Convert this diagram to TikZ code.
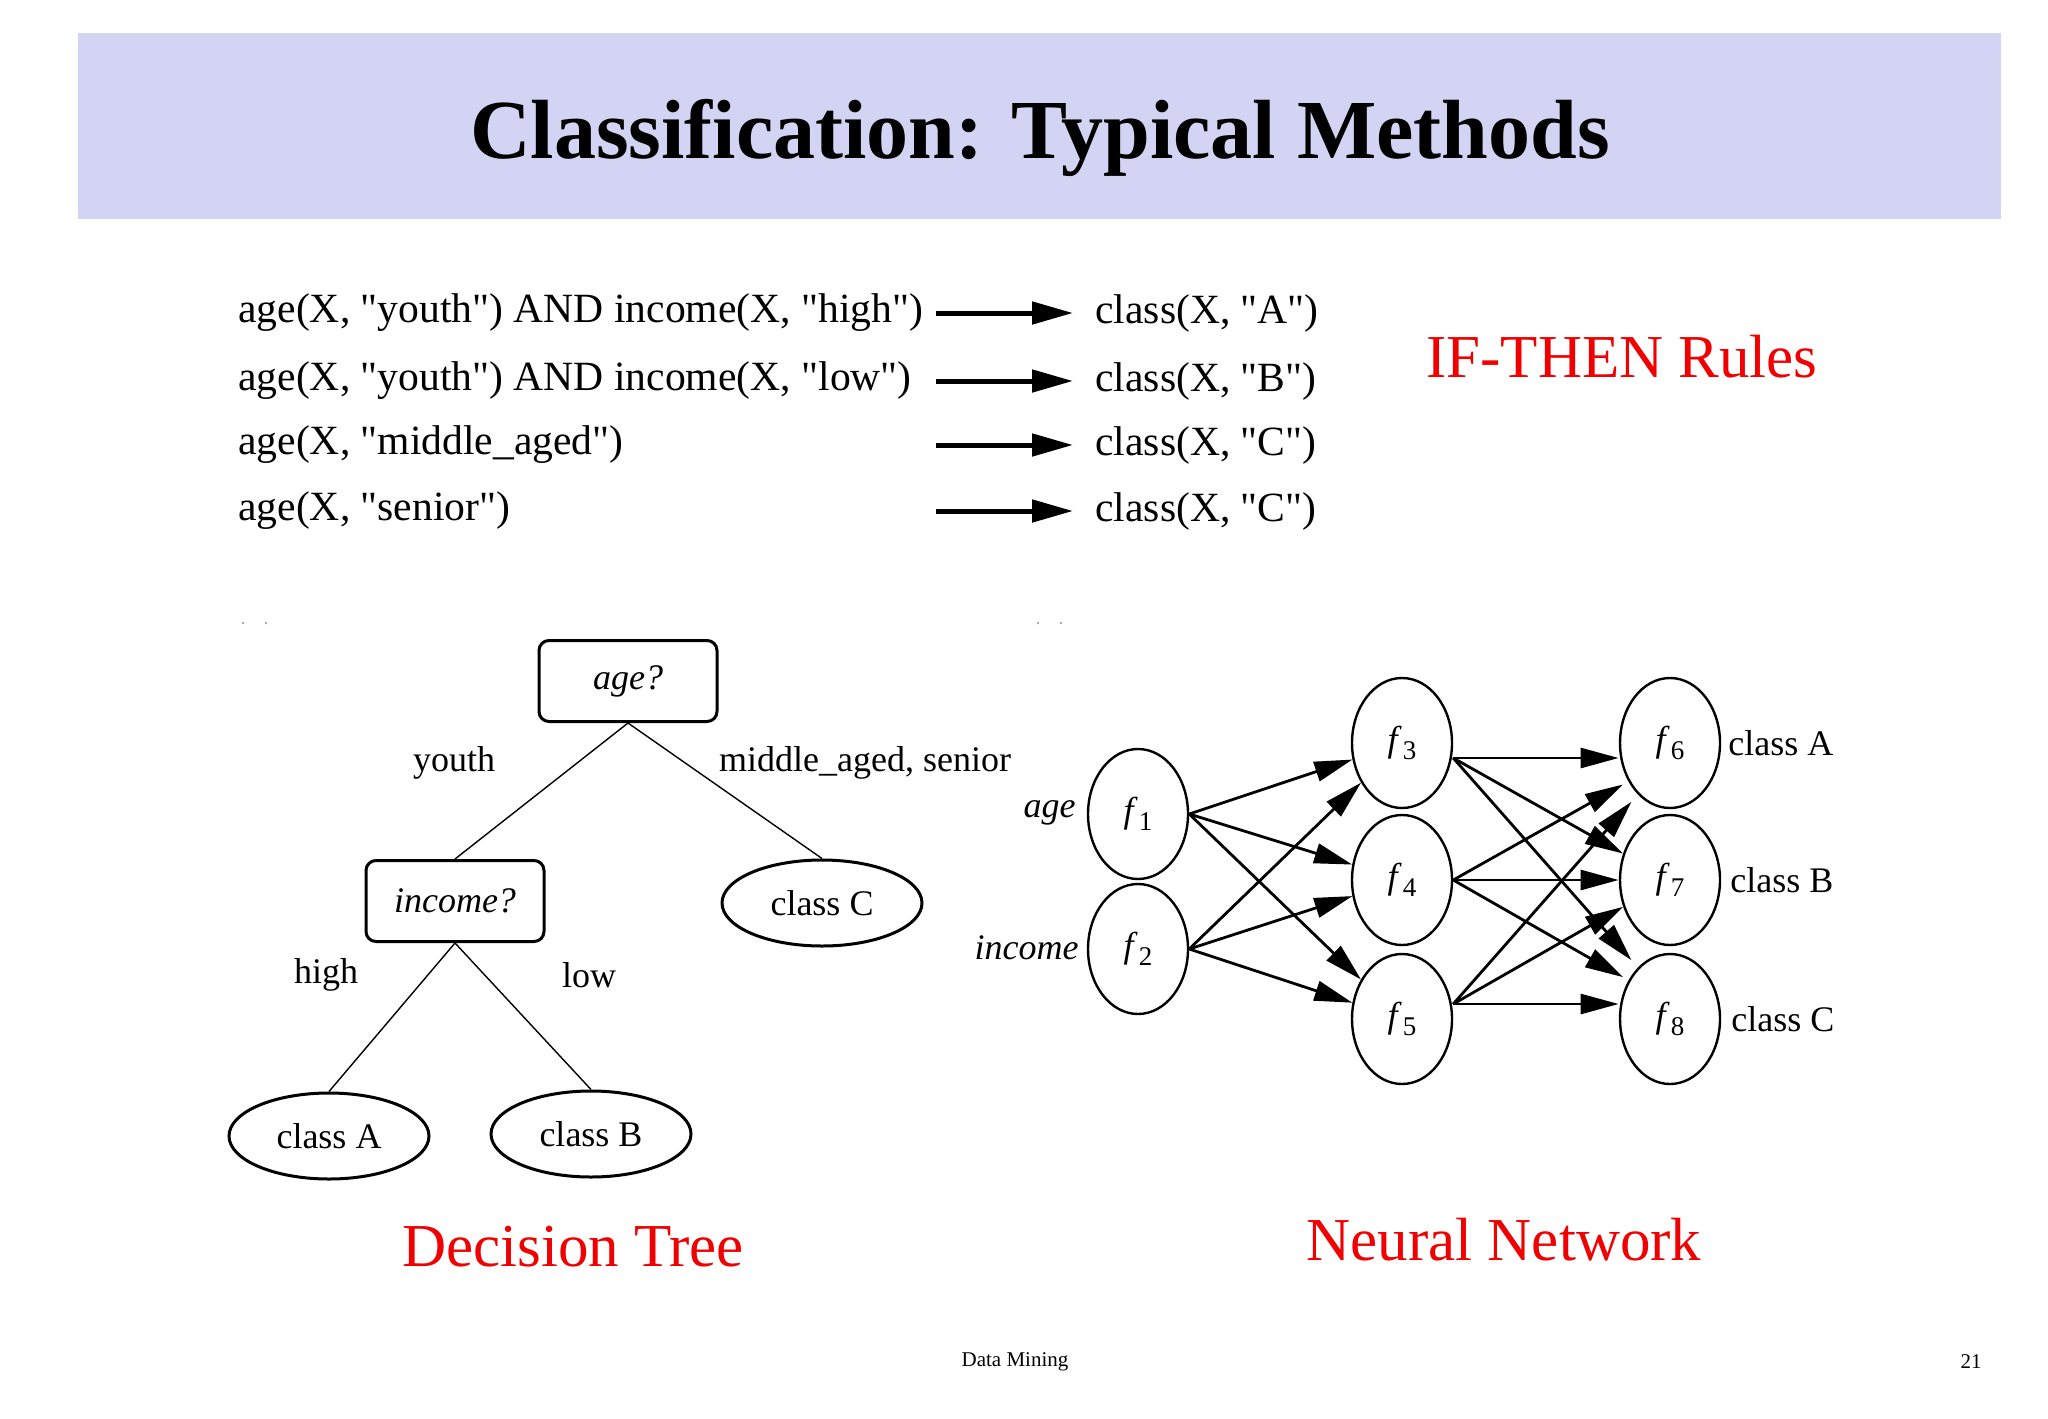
\documentclass[tikz,border=0pt]{standalone}
\usepackage{fontspec}
\setmainfont{Liberation Serif}[Ligatures=TeXOff]
\usetikzlibrary{arrows.meta,shapes.geometric,calc}
\definecolor{titlebar}{RGB}{211,211,243}
\definecolor{slidered}{RGB}{240,0,0}
\newcommand{\fl}[1]{\textit{f}\kern0.6pt\raisebox{-0.5ex}{\fontsize{13.5}{14}\selectfont #1}}
\begin{document}
\begin{tikzpicture}[x=0.5pt,y=-0.5pt,
  ruletext/.style={font=\fontsize{20.8}{25}\selectfont, inner sep=0, anchor=west},
  rulearrow/.style={line width=2.5pt, -{Triangle[length=20.5pt,width=11pt]}},
  treebox/.style={draw, line width=1.5pt, rounded corners=5pt, minimum width=89pt, minimum height=40.5pt, inner sep=0, font=\fontsize{18}{22}\selectfont\itshape},
  treeleaf/.style={draw, ellipse, line width=1.5pt, minimum width=100pt, minimum height=43pt, inner sep=0, font=\fontsize{18}{22}\selectfont},
  treeedge/.style={line width=0.7pt},
  treelabel/.style={font=\fontsize{18}{22}\selectfont, inner sep=0},
  neuron/.style={draw, ellipse, line width=1.2pt, minimum width=50pt, minimum height=65pt, inner sep=0, font=\fontsize{18}{22}\selectfont},
  ghost/.style={ellipse, minimum width=51pt, minimum height=66pt, inner sep=0},
  nnarrow/.style={line width=1.4pt, -{Triangle[length=19pt,width=10pt]}},
  redlabel/.style={text=slidered, font=\fontsize{30.5}{36}\selectfont, inner sep=0}
]
\useasboundingbox (0,0) rectangle (2048,1418);
\fill[white] (0,0) rectangle (2048,1418);

% title bar
\fill[titlebar] (78,33) rectangle (2001,219);
\node[font=\fontsize{42}{50}\selectfont\bfseries, anchor=base, inner sep=0] (title) at (1040,158) {Classification: Typical Methods};

% IF-THEN rules
\node[ruletext] (r1) at (238,313) {age(X, "youth") AND income(X, "high")};
\node[ruletext] (r2) at (238,381) {age(X, "youth") AND income(X, "low")};
\node[ruletext] (r3) at (238,445) {age(X, "middle\_aged")};
\node[ruletext] (r4) at (238,511) {age(X, "senior")};
\node[ruletext] (c1) at (1095,313) {class(X, "A")};
\node[ruletext] (c2) at (1095,381) {class(X, "B")};
\node[ruletext] (c3) at (1095,445) {class(X, "C")};
\node[ruletext] (c4) at (1095,511) {class(X, "C")};
\foreach \i/\y in {1/313,2/381,3/445,4/511}{
  \coordinate (as\i) at (936,\y);
  \coordinate (ae\i) at (1073,\y);
  \draw[rulearrow] (as\i) -- (ae\i);
}
\node[redlabel] (ifthen) at (1622,357) {IF-THEN Rules};

% remnant specks
\foreach \x in {243,266,1038,1061}{
  \fill[gray!70] (\x,623) circle[radius=1.3];
}

% decision tree
\node[treebox] (age) at (628,681) {age?};
\node[treebox] (income) at (455,901) {income?};
\node[treeleaf] (classC) at (822,903) {class C};
\node[treeleaf] (classA) at (329,1136) {class A};
\node[treeleaf] (classB) at (591,1134) {class B};
\draw[treeedge] (age.south) -- (income.north);
\draw[treeedge] (age.south) -- (classC.north);
\draw[treeedge] (income.south) -- (classA.north);
\draw[treeedge] (income.south) -- (classB.north);
\node[treelabel] (lyouth) at (454,763) {youth};
\node[treelabel] (lmid) at (865,763) {middle\_aged, senior};
\node[treelabel] (lhigh) at (326,975) {high};
\node[treelabel] (llow) at (589,975) {low};
\node[redlabel] (dtree) at (573,1247) {Decision Tree};

% neural network
\node[neuron] (f1) at (1138,814) {\fl{1}};
\node[neuron] (f2) at (1138,949) {\fl{2}};
\node[neuron] (f3) at (1402,743) {\fl{3}};
\node[neuron] (f4) at (1402,880) {\fl{4}};
\node[neuron] (f5) at (1402,1019) {\fl{5}};
\node[neuron] (f6) at (1670,743) {\fl{6}};
\node[neuron] (f7) at (1670,880) {\fl{7}};
\node[neuron] (f8) at (1670,1019) {\fl{8}};
% arrow targets of the output layer (slightly offset, as drawn in the original)
\node[ghost] (t6) at (1670,758) {};
\node[ghost] (t7) at (1670,880) {};
\node[ghost] (t8) at (1670,1004) {};
\node[treelabel, font=\fontsize{18}{22}\selectfont\itshape, anchor=east] (lage) at (1076,813) {age};
\node[treelabel, font=\fontsize{18}{22}\selectfont\itshape, anchor=east] (linc) at (1079,948) {income};
\node[treelabel, anchor=west] (oA) at (1728,743) {class A};
\node[treelabel, anchor=west] (oB) at (1730,880) {class B};
\node[treelabel, anchor=west] (oC) at (1731,1019) {class C};

\coordinate (s1) at (f1.east);
\coordinate (s2) at (f2.east);
\coordinate (s3) at ($(f3.east)+(0,15)$);
\coordinate (s4) at (f4.east);
\coordinate (s5) at ($(f5.east)+(0,-15)$);
\foreach \s in {1,2}{
  \foreach \t in {3,4,5}{
    \draw[nnarrow] (s\s) -- (f\t);
  }
}
\foreach \s in {3,4,5}{
  \foreach \t in {6,7,8}{
    \draw[nnarrow] (s\s) -- (t\t);
  }
}
\node[redlabel] (nnet) at (1504,1240) {Neural Network};

% footer
\node[font=\fontsize{10.5}{12}\selectfont, inner sep=0] (foot) at (1015,1362) {Data Mining};
\node[font=\fontsize{10.5}{12}\selectfont, inner sep=0] (page) at (1971,1362) {21};
\end{tikzpicture}
\end{document}
